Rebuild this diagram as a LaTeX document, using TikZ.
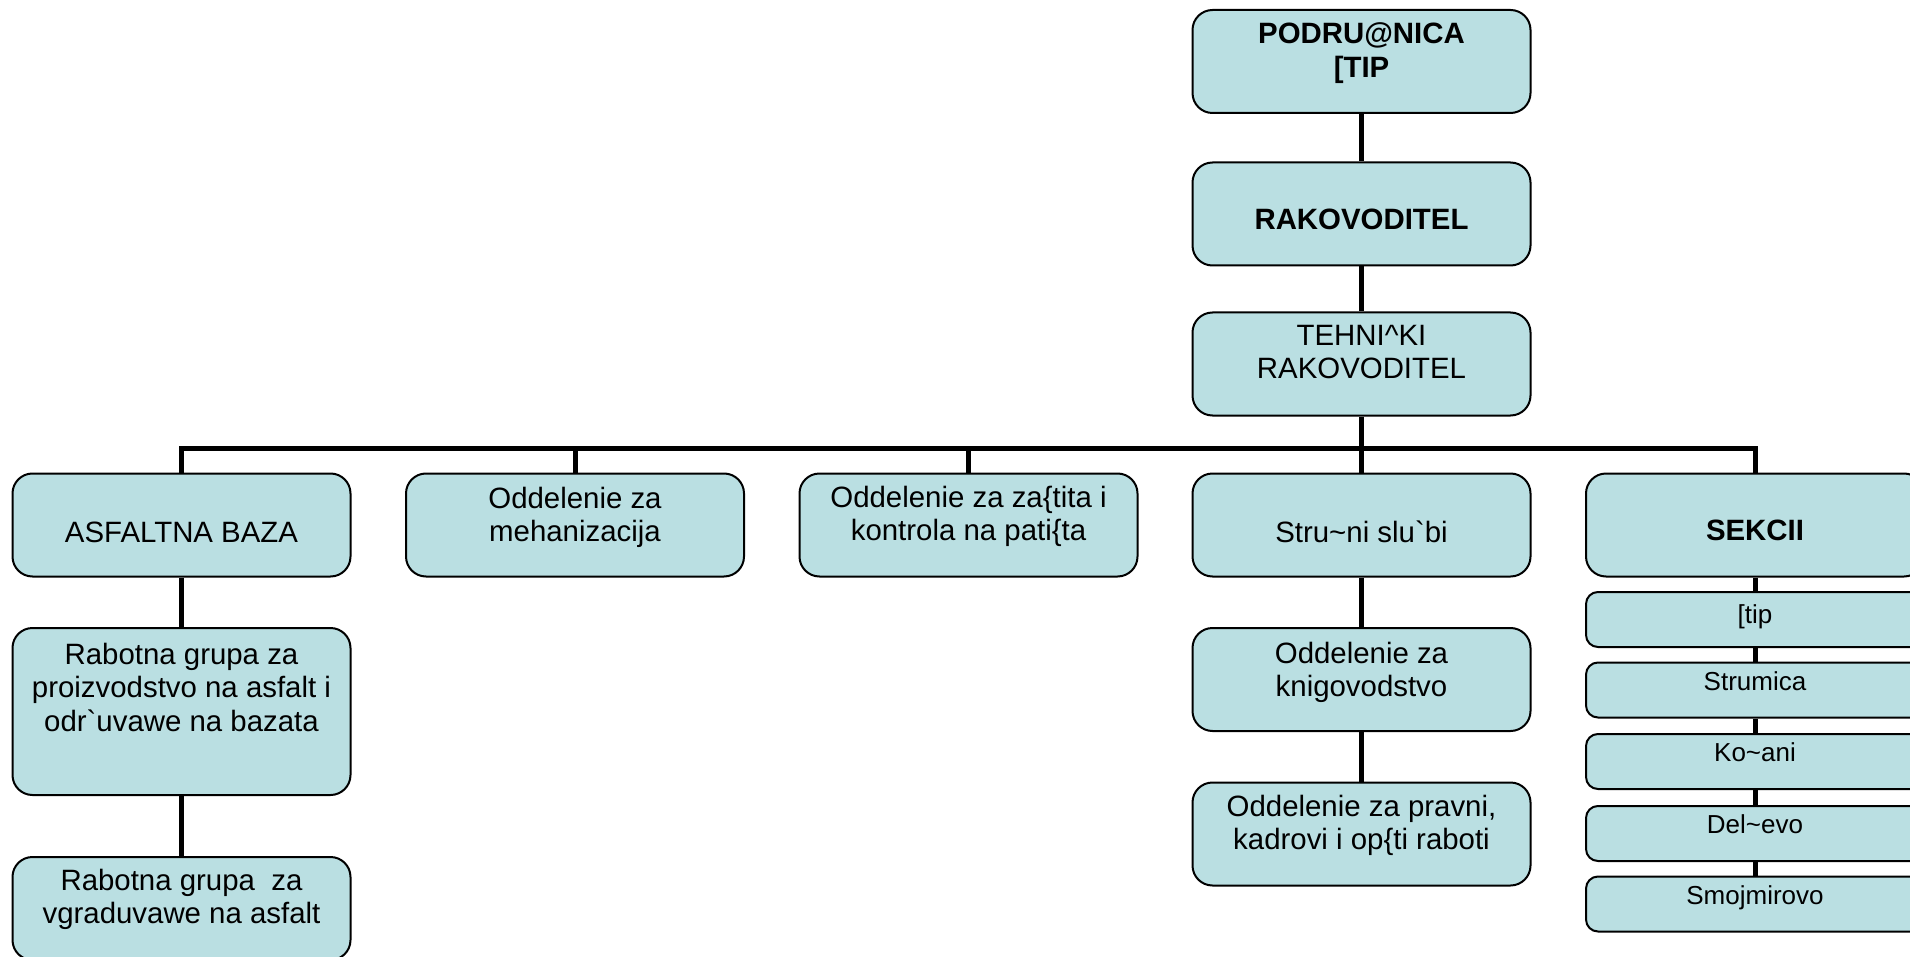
\documentclass[tikz,border=0pt]{standalone}
\usepackage{fontspec}
\setmainfont{Liberation Sans}[Ligatures=TeXOff]
\definecolor{boxfill}{RGB}{186,223,226}
\newcommand{\boxtext}[1]{\begin{tabular}[t]{@{}c@{}}#1\end{tabular}}
\tikzset{
  orgbox/.style={draw=black, line width=2pt, fill=boxfill, rounded corners=20pt,
    minimum width=338pt, minimum height=103pt, inner sep=0pt,
    text height=0pt, text depth=0pt, font=\fontsize{29.4}{33.5}\selectfont},
  headbox/.style={font=\fontsize{29.4}{33.5}\selectfont\bfseries},
  secbox/.style={orgbox, rounded corners=12pt, minimum height=55pt,
    font=\fontsize{26}{30}\selectfont},
  conn/.style={line width=5pt},
  txtdown/.style={text height=#1},
  txtup/.style={text depth=#1},
}
\begin{document}
\begin{tikzpicture}[x=1pt,y=-1pt]
\clip (0,0) rectangle (1910,957);

\node[orgbox,headbox,txtup=35pt] (podr) at (1361.5,61.5) {\boxtext{PODRU@NICA\\{[}TIP}};
\node[orgbox,headbox,txtdown=32pt] (rak) at (1361.5,214) {\boxtext{RAKOVODITEL}};
\node[orgbox,txtup=38pt] (teh) at (1361.5,364) {\boxtext{TEHNI\textasciicircum KI\\RAKOVODITEL}};
\coordinate (bus) at (1361.5,448);

\node[orgbox,txtdown=34pt] (asf) at (181.5,525) {\boxtext{ASFALTNA BAZA}};
\node[orgbox,txtup=34pt] (meh) at (575,525) {\boxtext{Oddelenie za\\mehanizacija}};
\node[orgbox,txtup=36pt] (zas) at (968.5,525) {\boxtext{Oddelenie za za\{tita i\\kontrola na pati\{ta}};
\node[orgbox,txtdown=34pt] (str) at (1361.5,525) {\boxtext{Stru\textasciitilde ni slu\textasciigrave bi}};
\node[orgbox,headbox,txtdown=30pt] (sek) at (1755,525) {\boxtext{SEKCII}};

\node[orgbox,minimum height=167pt,txtup=95pt] (prz) at (181.5,711.5) {\boxtext{Rabotna grupa za\\proizvodstvo na asfalt i\\odr\textasciigrave uvawe na bazata}};
\node[orgbox,txtup=37pt] (vgr) at (181.5,908.5) {\boxtext{Rabotna grupa\ \ za\\vgraduvawe na asfalt}};

\node[orgbox,txtup=33pt] (kng) at (1361.5,679.5) {\boxtext{Oddelenie za\\knigovodstvo}};
\node[orgbox,txtup=36pt] (prv) at (1361.5,834) {\boxtext{Oddelenie za pravni,\\kadrovi i op\{ti raboti}};

\node[secbox,txtdown=7pt] (stip) at (1755,619.5) {\boxtext{{[}tip}};
\node[secbox] (stru) at (1755,690) {\boxtext{Strumica}};
\node[secbox] (koc) at (1755,761.5) {\boxtext{Ko\textasciitilde ani}};
\node[secbox] (del) at (1755,833.5) {\boxtext{Del\textasciitilde evo}};
\node[secbox] (smo) at (1755,904) {\boxtext{Smojmirovo}};

\draw[conn] (podr)--(rak);
\draw[conn] (rak)--(teh);
\draw[conn] (teh)--(bus);
\foreach \n in {asf,meh,zas,str,sek}
  \draw[conn] (\n.north) |- (bus);
\draw[conn] (asf)--(prz);
\draw[conn] (prz)--(vgr);
\draw[conn] (str)--(kng);
\draw[conn] (kng)--(prv);
\draw[conn] (sek)--(stip);
\draw[conn] (stip)--(stru);
\draw[conn] (stru)--(koc);
\draw[conn] (koc)--(del);
\draw[conn] (del)--(smo);
\end{tikzpicture}
\end{document}
